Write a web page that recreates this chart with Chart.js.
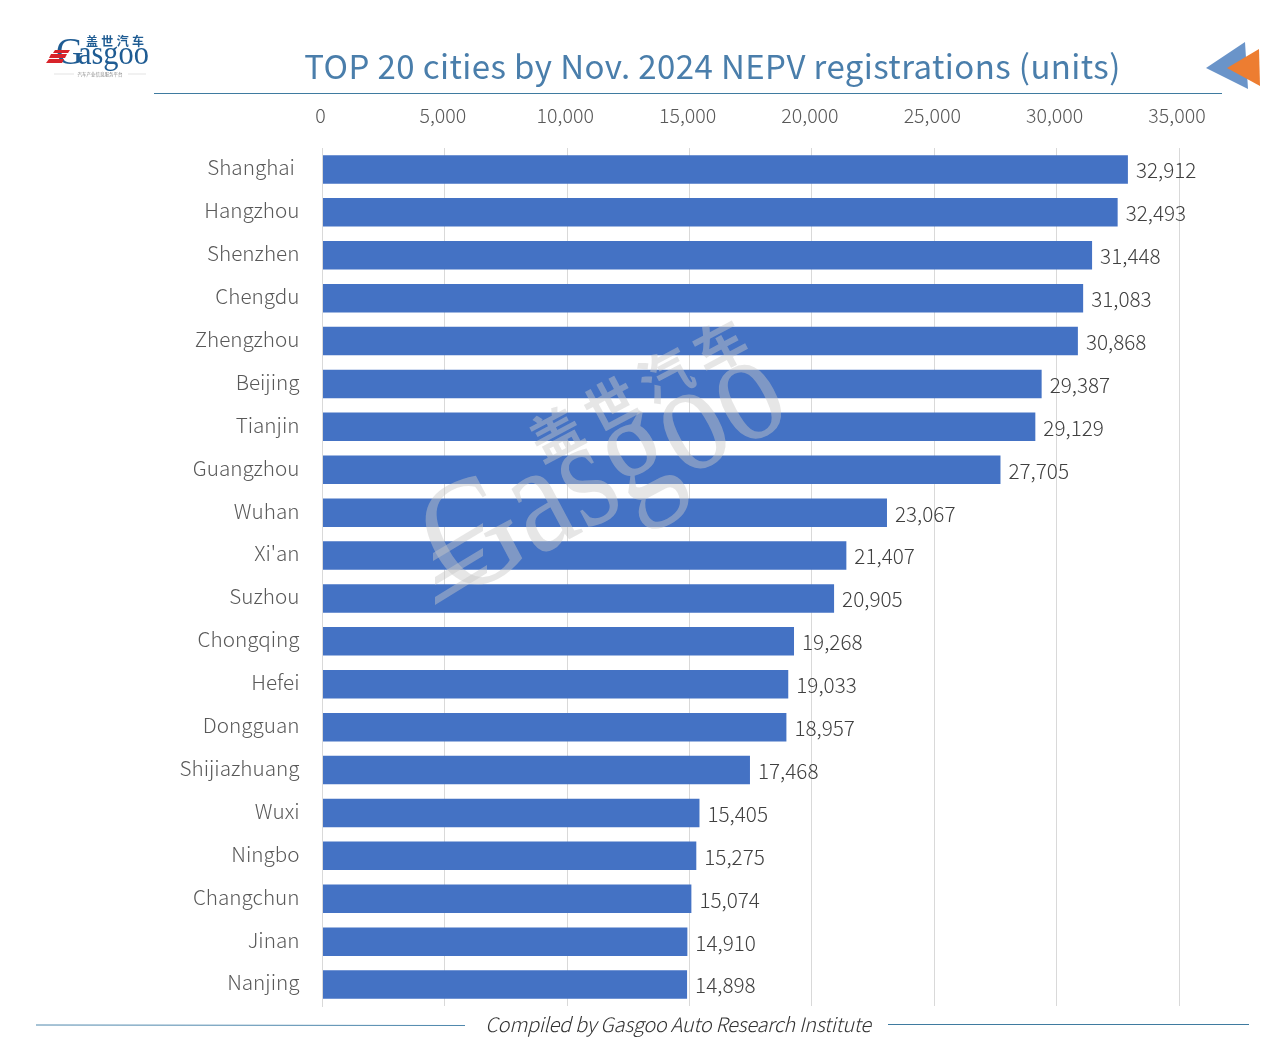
<!DOCTYPE html>
<html>
<head>
<meta charset="utf-8">
<title>TOP 20 cities by Nov. 2024 NEPV registrations</title>
<script src="https://cdn.jsdelivr.net/npm/chart.js@4"></script>
<style>
    html, body { margin: 0; padding: 0; background: #fff; }
    #wrap { position: relative; width: 1280px; height: 1058px; overflow: hidden; font-family: "Noto Sans CJK SC", "Noto Sans", sans-serif; }
    #chart { position: absolute; left: 0; top: 0; }
    #overlay { position: absolute; left: 0; top: 0; pointer-events: none; }
    #title { position: absolute; left: 212.5px; width: 1000px; top: 41px; text-align: center; font-size: 33px; line-height: 48px; color: #4a7eab; letter-spacing: 0.4px; font-weight: 400; }
    #source { position: absolute; left: 378px; width: 600px; top: 1009px; text-align: center; font-size: 20px; line-height: 30px; color: #333; font-style: italic; font-weight: 300; letter-spacing: -0.3px; }
</style>
</head>
<body>
<div id="wrap">
    <canvas id="chart" width="1280" height="1058"></canvas>
    <svg id="overlay" width="1280" height="1058">
        <!-- watermark -->
        <g fill="#c8c8c8" fill-opacity="0.45">
            <g transform="translate(455,600) rotate(-28)">
                <text x="0" y="0" font-family="Liberation Serif" font-size="158" textLength="385" lengthAdjust="spacingAndGlyphs">Gasgoo</text>
                <text x="141" y="-80" font-family="Noto Sans CJK SC" font-weight="700" font-size="52" textLength="238">盖世汽车</text>
            </g>
            <polygon points="433,553 483,523 483,531 433,561"/>
            <polygon points="435,577 483,548 483,556 435,585"/>
            <polygon points="435,597 487,565 487,573 435,605"/>
        </g>
        <!-- logo -->
        <text x="56" y="64" font-family="Liberation Serif" font-size="38" fill="#1f5c93">G</text>
        <text x="78" y="64" font-family="Liberation Serif" font-size="34" fill="#1f5c93" textLength="71" lengthAdjust="spacingAndGlyphs">asgoo</text>
        <text x="86" y="46" font-family="Noto Sans CJK SC" font-weight="700" font-size="12" fill="#1f5c93" textLength="58">盖世汽车</text>
        <polygon points="55,50 70,50 68,53 53,53" fill="#d8232a"/>
        <polygon points="51,54 67,54 65,58 49,58" fill="#d8232a"/>
        <polygon points="49,59 64,59 62,63 46,63" fill="#d8232a"/>
        <line x1="54" y1="74" x2="146" y2="74" stroke="#e3e3e3"/>
        <rect x="74" y="71" width="54" height="6" fill="#fff"/>
        <text x="100" y="76" text-anchor="middle" font-family="Noto Sans CJK SC" font-size="4.5" fill="#888">汽车产业信息服务平台</text>
        <!-- arrows top right -->
        <polygon points="1206,68 1245,42 1248,89" fill="#6a94c9"/>
        <polygon points="1227,68 1259,49 1260,86" fill="#ed7d31"/>
        <!-- rules -->
        <line x1="154" y1="93.5" x2="1222" y2="93.5" stroke="#3f7ba0" stroke-width="1"/>
        <line x1="36" y1="1025" x2="465" y2="1025.5" stroke="#4f88ad" stroke-width="1"/>
        <line x1="888" y1="1024.5" x2="1249" y2="1024.5" stroke="#3f7ba0" stroke-width="1"/>
    </svg>
    <div id="title">TOP 20 cities by Nov. 2024 NEPV registrations (units)</div>
    <div id="source">Compiled by Gasgoo Auto Research Institute</div>
</div>
<script>
const cities = ['Shanghai ', 'Hangzhou', 'Shenzhen', 'Chengdu', 'Zhengzhou', 'Beijing', 'Tianjin', 'Guangzhou', 'Wuhan', "Xi'an",
    'Suzhou', 'Chongqing', 'Hefei', 'Dongguan', 'Shijiazhuang', 'Wuxi', 'Ningbo', 'Changchun', 'Jinan', 'Nanjing'];
const registrations = [32912, 32493, 31448, 31083, 30868, 29387, 29129, 27705, 23067, 21407,
    20905, 19268, 19033, 18957, 17468, 15405, 15275, 15074, 14910, 14898];
const axisMax = 35000;
const axisStep = 5000;

const fontName = '"Noto Sans CJK SC", "Noto Sans", sans-serif';

// value labels to the right of each bar
const valueLabels = {
    id: 'valueLabels',
    afterDatasetsDraw(chart) {
        const ctx = chart.ctx;
        const bars = chart.getDatasetMeta(0).data;
        ctx.save();
        ctx.font = '300 20.7px ' + fontName;
        ctx.fillStyle = '#404040';
        ctx.textAlign = 'left';
        ctx.textBaseline = 'middle';
        bars.forEach((bar, i) => {
            ctx.fillText(registrations[i].toLocaleString('en-US'), bar.x + 8, bar.y + 1);
        });
        ctx.restore();
    }
};

const ctx = document.getElementById('chart').getContext('2d');
const chart = new Chart(ctx, {
    type: 'bar',
    plugins: [valueLabels],
    data: {
        labels: cities,
        datasets: [{
            data: registrations,
            backgroundColor: '#4472c4',
            categoryPercentage: 1,
            barPercentage: 0.665
        }]
    },
    options: {
        indexAxis: 'y',
        responsive: false,
        animation: false,
        layout: { padding: { left: 0, top: 0, right: 101, bottom: 52 } },
        plugins: { legend: { display: false }, tooltip: { enabled: false }, title: { display: false } },
        scales: {
            x: {
                position: 'top',
                min: 0,
                max: axisMax,
                afterFit: (scale) => { scale.height = 148; },
                ticks: {
                    stepSize: axisStep,
                    maxRotation: 0,
                    padding: 21,
                    labelOffset: -2,
                    color: '#595959',
                    font: { family: fontName, size: 19.6, weight: '300' },
                    callback: (v) => v.toLocaleString('en-US')
                },
                grid: { color: '#d9d9d9', lineWidth: 1, drawTicks: false },
                border: { display: false }
            },
            y: {
                afterFit: (scale) => { scale.width = 322.5; },
                ticks: {
                    padding: 23,
                    labelOffset: -2,
                    autoSkip: false,
                    color: '#595959',
                    font: { family: fontName, size: 20.7, weight: '300' }
                },
                grid: { display: false, drawTicks: false },
                border: { display: true, color: '#d9d9d9', width: 1 }
            }
        }
    }
});
</script>
</body>
</html>
